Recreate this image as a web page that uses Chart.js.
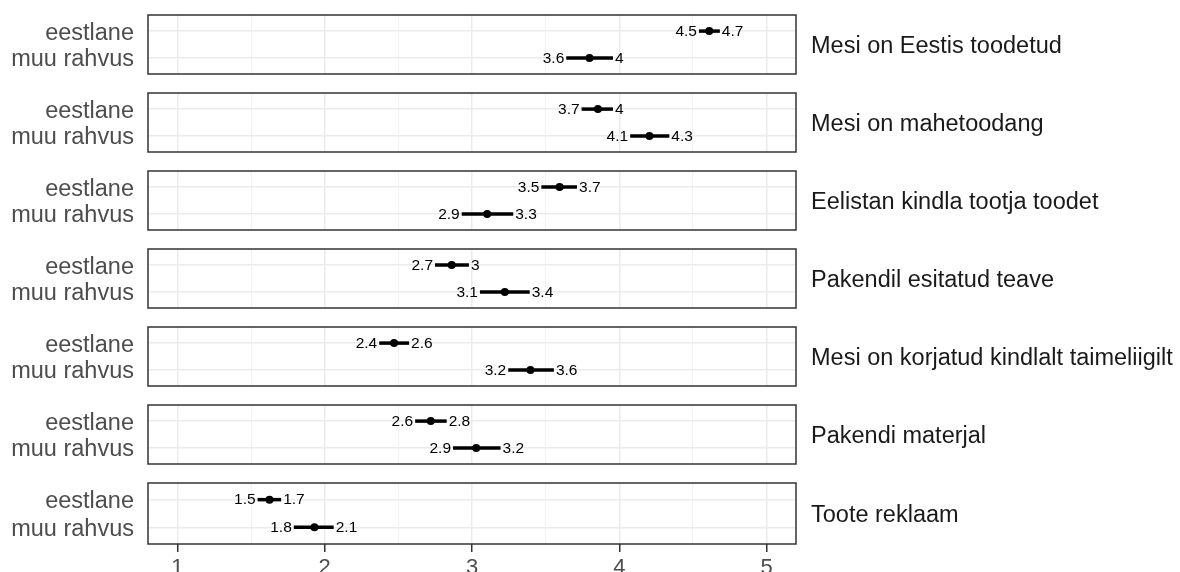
<!DOCTYPE html>
<html>
<head>
<meta charset="utf-8">
<script src="https://cdn.jsdelivr.net/npm/chart.js@4.4.1/dist/chart.umd.min.js"></script>
<style>
  html, body { margin: 0; padding: 0; background: #ffffff; width: 1180px; height: 572px; overflow: hidden; }
  .facet { position: absolute; left: 0; width: 1180px; }
  .facet canvas { display: block; }
</style>
</head>
<body>
<div id="plot"></div>
<script>
// Facets (one panel each), groups (rows inside a panel)
const facets = [
  'Mesi on Eestis toodetud',
  'Mesi on mahetoodang',
  'Eelistan kindla tootja toodet',
  'Pakendil esitatud teave',
  'Mesi on korjatud kindlalt taimeliigilt',
  'Pakendi materjal',
  'Toote reklaam'
];
const groups = ['eestlane', 'muu rahvus'];

// Mean score and 95% interval per facet, group "eestlane"
const meanEestlane  = [4.611, 3.855, 3.595, 2.862, 2.471, 2.720, 1.625];
const lowerEestlane = [4.541, 3.744, 3.471, 2.749, 2.370, 2.614, 1.544];
const upperEestlane = [4.683, 3.957, 3.713, 2.979, 2.573, 2.828, 1.704];

// Mean score and 95% interval per facet, group "muu rahvus"
const meanMuu  = [3.798, 4.205, 3.103, 3.223, 3.397, 3.029, 1.930];
const lowerMuu = [3.640, 4.074, 2.930, 3.054, 3.246, 2.871, 1.790];
const upperMuu = [3.957, 4.340, 3.280, 3.392, 3.556, 3.194, 2.061];

// Score axis
const xTicks = [1, 1.5, 2, 2.5, 3, 3.5, 4, 4.5, 5];
const xMin = 0.8, xMax = 5.2;

const FONT = "'Liberation Sans', Arial, sans-serif";
const PANEL_TOP = 13, PANEL_STEP = 78, PANEL_H = 63, PANEL_RIGHT = 796, Y_AXIS_W = 148;
const AXIS_H = 28, PAD = 2;

const fmt = v => String(Math.round(v * 10) / 10);
const isMajor = v => Math.abs(v - Math.round(v)) < 1e-9;
const noPadding = s => { s.paddingTop = 0; s.paddingBottom = 0; s.paddingLeft = 0; s.paddingRight = 0; };

// Panel frame, interval labels and facet title
const facetDecor = {
  id: 'facetDecor',
  afterDatasetsDraw(chart, args, opts) {
    const { ctx, chartArea: a, scales } = chart;
    const i = opts.index;
    const rows = [
      { y: 1, lo: lowerEestlane[i], hi: upperEestlane[i] },
      { y: 2, lo: lowerMuu[i], hi: upperMuu[i] }
    ];
    ctx.save();
    ctx.fillStyle = '#000000';
    ctx.font = '15.5px ' + FONT;
    ctx.textBaseline = 'middle';
    rows.forEach(r => {
      const py = scales.y.getPixelForValue(r.y) + 0.5;
      ctx.textAlign = 'right';
      ctx.fillText(fmt(r.lo), scales.x.getPixelForValue(r.lo) - 2, py);
      ctx.textAlign = 'left';
      ctx.fillText(fmt(r.hi), scales.x.getPixelForValue(r.hi) + 2, py);
    });
    // frame
    ctx.strokeStyle = '#333333';
    ctx.lineWidth = 1.5;
    ctx.strokeRect(a.left, a.top, a.right - a.left, a.bottom - a.top);
    // facet title
    ctx.fillStyle = '#1A1A1A';
    ctx.font = '23.5px ' + FONT;
    ctx.textAlign = 'left';
    ctx.textBaseline = 'middle';
    ctx.fillText(facets[i], a.right + 15, (a.top + a.bottom) / 2 + 2);
    ctx.restore();
  }
};

const plot = document.getElementById('plot');

facets.forEach((name, i) => {
  const last = i === facets.length - 1;
  const top = PANEL_TOP + i * PANEL_STEP - PAD;
  const height = last ? (572 - top) : (PANEL_H + 2 * PAD);

  const div = document.createElement('div');
  div.className = 'facet';
  div.style.top = top + 'px';
  div.style.height = height + 'px';
  const canvas = document.createElement('canvas');
  canvas.width = 1180;
  canvas.height = height;
  div.appendChild(canvas);
  plot.appendChild(div);

  const ciLine = (lo, hi, y) => ({
    type: 'scatter',
    data: [{ x: lo, y: y }, { x: hi, y: y }],
    showLine: true,
    borderColor: '#000000',
    borderWidth: 3.5,
    borderCapStyle: 'butt',
    pointRadius: 0,
    pointHoverRadius: 0
  });

  new Chart(canvas, {
    type: 'scatter',
    data: {
      datasets: [
        ciLine(lowerEestlane[i], upperEestlane[i], 1),
        ciLine(lowerMuu[i], upperMuu[i], 2),
        {
          type: 'scatter',
          data: [{ x: meanEestlane[i], y: 1 }, { x: meanMuu[i], y: 2 }],
          backgroundColor: '#000000',
          borderWidth: 0,
          pointRadius: 4,
          pointHoverRadius: 4
        }
      ]
    },
    options: {
      responsive: false,
      animation: false,
      events: [],
      layout: { padding: { left: 0, right: 1180 - PANEL_RIGHT, top: PAD, bottom: last ? 0 : PAD } },
      plugins: {
        legend: { display: false },
        tooltip: { enabled: false },
        facetDecor: { index: i }
      },
      scales: {
        x: {
          type: 'linear',
          min: xMin,
          max: xMax,
          afterBuildTicks: s => { s.ticks = xTicks.map(v => ({ value: v })); },
          afterFit: s => { s.height = last ? AXIS_H : 0; noPadding(s); },
          border: { display: false },
          grid: {
            color: c => isMajor(c.tick.value) ? '#EBEBEB' : '#F2F2F2',
            lineWidth: c => isMajor(c.tick.value) ? 1.5 : 1,
            drawTicks: last,
            tickLength: 8,
            tickWidth: 1.5,
            tickColor: c => isMajor(c.tick.value) ? '#333333' : 'rgba(0,0,0,0)'
          },
          ticks: {
            display: last,
            autoSkip: false,
            maxRotation: 0,
            padding: 3,
            color: '#4D4D4D',
            font: { family: FONT, size: 22 },
            callback: v => isMajor(v) ? String(Math.round(v)) : ''
          }
        },
        y: {
          type: 'linear',
          reverse: true,
          min: 0.4,
          max: 2.6,
          afterBuildTicks: s => { s.ticks = [1, 2].map(v => ({ value: v })); },
          afterFit: s => { s.width = Y_AXIS_W; noPadding(s); },
          border: { display: false },
          grid: { color: '#EBEBEB', lineWidth: 1.5, drawTicks: false },
          ticks: {
            padding: 14,
            labelOffset: 2,
            color: '#4D4D4D',
            font: { family: FONT, size: 23.5 },
            callback: v => groups[Math.round(v) - 1]
          }
        }
      }
    },
    plugins: [facetDecor]
  });
});
</script>
</body>
</html>
